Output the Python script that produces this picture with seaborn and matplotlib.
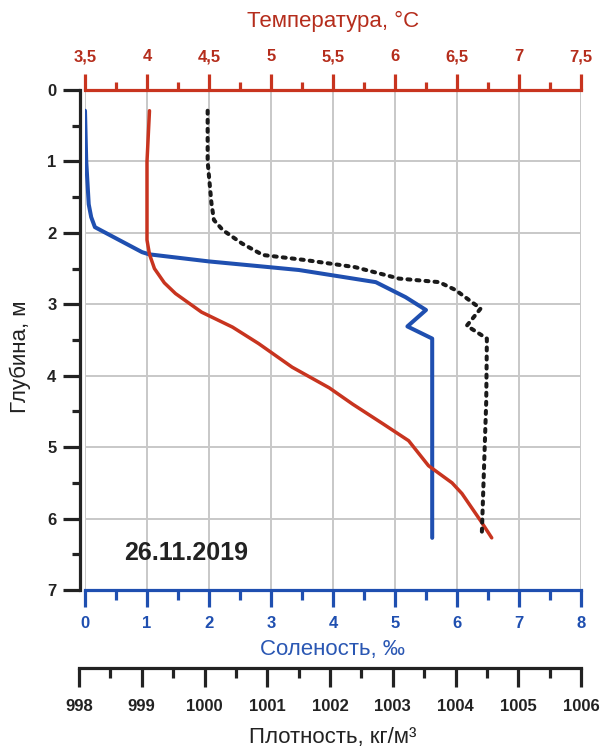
import matplotlib
matplotlib.use("Agg")
import matplotlib.pyplot as plt
from matplotlib.ticker import MultipleLocator, FuncFormatter
import seaborn as sns

# ── Data read from the profile (26.11.2019) ───────────────────────────────
depth_sal = [0.29, 1.0, 1.6, 1.78, 1.92, 2.1, 2.27, 2.3, 2.4, 2.48, 2.52,
             2.69, 2.9, 3.08, 3.31, 3.48, 6.27]
salinity = [0.0, 0.02, 0.06, 0.1, 0.16, 0.55, 0.92, 1.03, 2.0, 2.97, 3.45,
            4.69, 5.17, 5.5, 5.2, 5.6, 5.6]

depth_temp = [0.29, 1.0, 1.5, 1.8, 2.1, 2.3, 2.5, 2.7, 2.85, 3.11, 3.32,
              3.55, 3.88, 4.17, 4.4, 4.67, 4.91, 5.26, 5.5, 5.65, 6.03, 6.27]
temperature = [4.02, 4.0, 4.0, 4.0, 4.0, 4.02, 4.06, 4.14, 4.23, 4.44, 4.69,
               4.9, 5.17, 5.47, 5.66, 5.9, 6.11, 6.27, 6.46, 6.54, 6.69, 6.78]

depth_dens = [0.29, 1.0, 1.58, 1.82, 1.96, 2.15, 2.31, 2.38, 2.48, 2.64,
              2.69, 2.8, 3.06, 3.3, 3.48, 4.35, 6.2]
density = [1000.05, 1000.05, 1000.11, 1000.15, 1000.29, 1000.6, 1000.93,
           1001.6, 1002.4, 1003.1, 1003.74, 1004.0, 1004.4, 1004.18, 1004.5,
           1004.49, 1004.42]

date_label = "26.11.2019"

# ── Styling ───────────────────────────────────────────────────────────────
RED = "#c8341f"
RED_TXT = "#b52d1c"
BLUE = "#1f4fb0"
BLUE_TXT = "#2a57b3"
INK = "#222222"
GRID = "#c8c8c8"

sns.set_theme(style="white")
plt.rcParams["font.family"] = ["Liberation Sans", "DejaVu Sans"]
plt.rcParams["font.weight"] = "bold"
plt.rcParams["xtick.bottom"] = True
plt.rcParams["ytick.left"] = True

W, H = 603, 751
fig = plt.figure(figsize=(W / 100, H / 100), dpi=100)

x0, x1, y0, y1 = 85, 581, 90, 590
ax = fig.add_axes([x0 / W, 1 - y1 / H, (x1 - x0) / W, (y1 - y0) / H])
ax.set_facecolor("white")

comma = FuncFormatter(lambda v, p: f"{v:g}".replace(".", ","))

# salinity (main axes, bottom scale)
sns.lineplot(x=salinity, y=depth_sal, sort=False, estimator=None,
             color=BLUE, lw=2.9, ax=ax, zorder=5)
ax.set_xlim(0, 8)
ax.set_ylim(7, 0)
ax.xaxis.set_major_locator(MultipleLocator(1))
ax.xaxis.set_minor_locator(MultipleLocator(0.5))
ax.yaxis.set_major_locator(MultipleLocator(1))
ax.yaxis.set_minor_locator(MultipleLocator(0.5))
ax.grid(True, which="major", color=GRID, lw=1.4)
ax.set_axisbelow(True)
for s in ["top", "right"]:
    ax.spines[s].set_visible(False)
ax.spines["bottom"].set_color(BLUE)
ax.spines["bottom"].set_linewidth(2.3)
ax.spines["left"].set_color(INK)
ax.spines["left"].set_linewidth(2.3)
ax.spines["left"].set_position(("outward", 3.6))
ax.tick_params(axis="x", which="both", bottom=True, top=False)
ax.tick_params(axis="x", which="major", direction="out", length=12, width=2.3,
               color=BLUE, labelcolor=BLUE, labelsize=12, pad=7)
ax.tick_params(axis="x", which="minor", direction="out", length=7, width=2.3,
               color=BLUE)
ax.tick_params(axis="y", which="both", left=True, right=False)
ax.tick_params(axis="y", which="major", direction="out", length=12, width=2.3,
               color=INK, labelcolor=INK, labelsize=12, pad=5)
ax.tick_params(axis="y", which="minor", direction="out", length=6, width=2.3,
               color=INK)
ax.set_xlabel("")
ax.set_ylabel("")

# temperature (top scale)
ax_t = ax.twiny()
sns.lineplot(x=temperature, y=depth_temp, sort=False, estimator=None,
             color=RED, lw=2.5, ax=ax_t)
ax_t.set_xlim(3.5, 7.5)
ax_t.set_ylim(7, 0)
ax_t.xaxis.set_major_locator(MultipleLocator(0.5))
ax_t.xaxis.set_minor_locator(MultipleLocator(0.25))
ax_t.xaxis.set_major_formatter(comma)
for s in ["bottom", "left", "right"]:
    ax_t.spines[s].set_visible(False)
ax_t.spines["top"].set_color(RED)
ax_t.spines["top"].set_linewidth(2.3)
ax_t.tick_params(axis="x", which="both", top=True, bottom=False)
ax_t.tick_params(axis="x", which="major", direction="out", length=11.5,
                 width=2.3, color=RED, labelcolor=RED_TXT, labelsize=12, pad=7)
ax_t.tick_params(axis="x", which="minor", direction="out", length=6,
                 width=2.3, color=RED)
ax_t.set_xlabel("")

# density (curve on hidden twin, scale drawn as separate axis below)
d_left = 79
d_scale = (x1 - d_left) / 8.0
ax_d = ax.twiny()
sns.lineplot(x=density, y=depth_dens, sort=False, estimator=None,
             color="#1a1a1a", lw=2.9, linestyle=(0, (0.75, 1.5)),
             dash_capstyle="round", ax=ax_d)
ax_d.set_xlim(998 + (x0 - d_left) / d_scale, 1006)
ax_d.set_ylim(7, 0)
for s in ax_d.spines.values():
    s.set_visible(False)
ax_d.tick_params(axis="x", which="both", top=False, bottom=False,
                 labeltop=False, labelbottom=False)
ax_d.set_xlabel("")

ax_s = fig.add_axes([d_left / W, 1 - 668 / H, (x1 - d_left) / W, 0.0001])
ax_s.set_facecolor("none")
ax_s.set_xlim(998, 1006)
ax_s.xaxis.set_major_locator(MultipleLocator(1))
ax_s.xaxis.set_minor_locator(MultipleLocator(0.5))
ax_s.set_yticks([])
for s in ["top", "left", "right"]:
    ax_s.spines[s].set_visible(False)
ax_s.spines["bottom"].set_color(INK)
ax_s.spines["bottom"].set_linewidth(2.3)
ax_s.tick_params(axis="x", which="both", bottom=True, top=False)
ax_s.tick_params(axis="x", which="major", direction="out", length=13.5,
                 width=2.3, color=INK, labelcolor=INK, labelsize=12, pad=9)
ax_s.tick_params(axis="x", which="minor", direction="out", length=7,
                 width=2.3, color=INK)

# labels
fig.text(333 / W, 1 - 21 / H, "Температура, °C", color=RED_TXT, fontsize=16,
         fontweight="normal", ha="center", va="center")
fig.text(333 / W, 1 - 650 / H, "Соленость, ‰", color=BLUE_TXT, fontsize=16,
         fontweight="normal", ha="center", va="center")
fig.text(333 / W, 1 - 737 / H, "Плотность, кг/м³", color=INK,
         fontsize=16, fontweight="normal", ha="center", va="center")
fig.text(20 / W, 1 - 357 / H, "Глубина, м", color=INK, fontsize=16,
         fontweight="normal", rotation=90, ha="center", va="center")
ax.text(0.63, 6.48, date_label, fontsize=18, fontweight="bold",
        color=INK, ha="left", va="center")

fig.savefig("out.png", dpi=100)
